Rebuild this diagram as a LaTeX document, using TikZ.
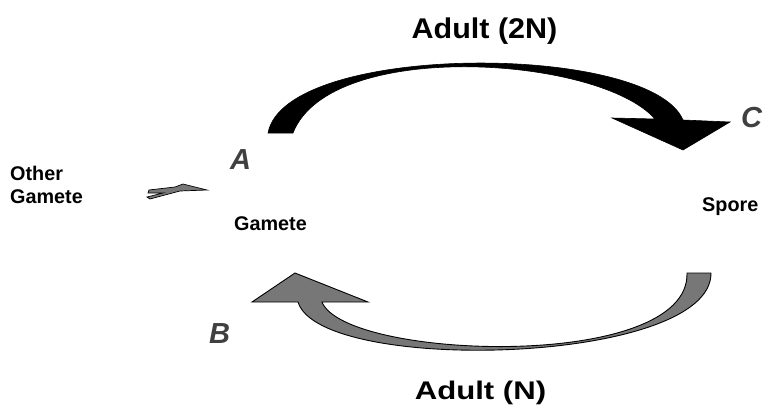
\documentclass[tikz,border=0pt]{standalone}
\usepackage{fontspec}
\setmainfont{Liberation Sans}
\definecolor{lettergray}{HTML}{404040}
\definecolor{arrowgray}{HTML}{777777}
\begin{document}
\begin{tikzpicture}[x=1pt,y=-1pt,
  title/.style={font=\fontsize{28.5}{30}\selectfont\bfseries, inner sep=0pt},
  label/.style={font=\fontsize{19.8}{23}\selectfont\bfseries, inner sep=0pt, anchor=base west},
  letter/.style={font=\fontsize{29}{30}\selectfont\bfseries\itshape, text=lettergray, inner sep=0pt, anchor=base west},
  blackarrow/.style={fill=black, draw=black, line width=0.6pt, line join=miter},
  grayarrow/.style={fill=arrowgray, draw=black, line width=0.9pt, line join=miter}]
\useasboundingbox (0,0) rectangle (763,407);
% texts
\node[title, anchor=base, xscale=1.07] (top) at (484.5,38) {Adult (2N)};
\node[title, anchor=base, font=\fontsize{25.5}{28}\selectfont\bfseries, xscale=1.22] (bottom) at (480.5,399) {Adult (N)};
\node[letter] (A) at (230,169) {A};
\node[letter] (C) at (741,127) {C};
\node[letter] (B) at (209,343) {B};
\node[label] (gam) at (234,230) {Gamete};
\node[label] (spore) at (702,211) {Spore};
\node[label, align=left, anchor=north west] (other) at (10,166) {Other\\Gamete};
% top black arrow (2N)
\draw[blackarrow] (268,133) .. controls (285,42) and (650,42) .. (683,120)
  -- (730,122) -- (683,150) -- (612,118) -- (655,119)
  .. controls (600,56) and (330,38) .. (293,133) -- cycle;
% bottom gray arrow (N)
\draw[grayarrow] (711,273) .. controls (712,365) and (320,375) .. (298,302)
  -- (252,302) -- (295,273) -- (368,302) -- (322,302)
  .. controls (345,360) and (690,372) .. (687,273) -- cycle;
% small arrow from other gamete
\draw[grayarrow, line width=0.7pt] (149,190) -- (175,187) -- (183,184) -- (207,190) -- (180,191)
  -- (150,199) -- (147,197) -- (163,193) -- (148,193) -- cycle;
\end{tikzpicture}
\end{document}
